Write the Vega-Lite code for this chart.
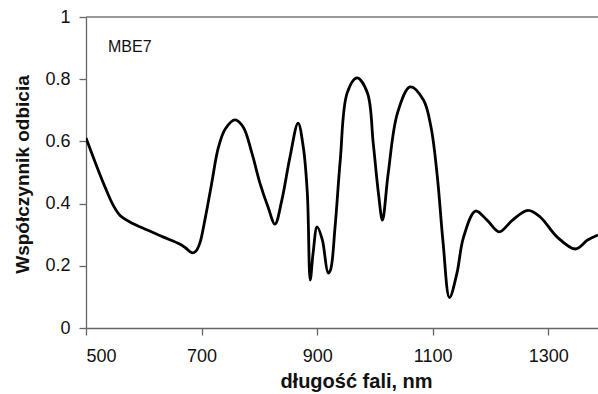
{
  "$schema": "https://vega.github.io/schema/vega-lite/v6.json",
  "autosize": {"type": "none"},
  "padding": {"left": 86, "top": 17, "right": 0, "bottom": 66},
  "width": 512,
  "height": 311,
  "background": "white",
  "config": {
    "view": {"stroke": null},
    "font": "Liberation Sans",
    "axis": {
      "grid": false,
      "domainColor": "#666",
      "domainWidth": 1.3,
      "tickColor": "#666",
      "tickWidth": 1.3,
      "tickSize": 7,
      "labelFont": "Liberation Sans",
      "labelFontSize": 18,
      "labelColor": "#111",
      "titleFont": "Liberation Sans",
      "titleFontWeight": "bold",
      "titleColor": "#111"
    }
  },
  "data": {
    "values": [
      {"nm": 500, "r": 0.611}, {"nm": 519, "r": 0.518}, {"nm": 533, "r": 0.453},
      {"nm": 547, "r": 0.395}, {"nm": 559, "r": 0.362}, {"nm": 576, "r": 0.341},
      {"nm": 606, "r": 0.315}, {"nm": 633, "r": 0.293}, {"nm": 663, "r": 0.269},
      {"nm": 672, "r": 0.258}, {"nm": 683, "r": 0.242}, {"nm": 690, "r": 0.247},
      {"nm": 697, "r": 0.273}, {"nm": 706, "r": 0.35}, {"nm": 717, "r": 0.46},
      {"nm": 729, "r": 0.58}, {"nm": 741, "r": 0.64}, {"nm": 758, "r": 0.669},
      {"nm": 772, "r": 0.646}, {"nm": 787, "r": 0.563}, {"nm": 801, "r": 0.466},
      {"nm": 815, "r": 0.389}, {"nm": 827, "r": 0.334}, {"nm": 839, "r": 0.412},
      {"nm": 853, "r": 0.55}, {"nm": 867, "r": 0.659}, {"nm": 876, "r": 0.582},
      {"nm": 883, "r": 0.434}, {"nm": 888, "r": 0.154}, {"nm": 893, "r": 0.241},
      {"nm": 900, "r": 0.325}, {"nm": 909, "r": 0.283}, {"nm": 919, "r": 0.177},
      {"nm": 923, "r": 0.186}, {"nm": 931, "r": 0.325}, {"nm": 940, "r": 0.54},
      {"nm": 952, "r": 0.756}, {"nm": 969, "r": 0.804}, {"nm": 987, "r": 0.756},
      {"nm": 997, "r": 0.595}, {"nm": 1006, "r": 0.434}, {"nm": 1013, "r": 0.347},
      {"nm": 1023, "r": 0.498}, {"nm": 1039, "r": 0.691}, {"nm": 1061, "r": 0.775},
      {"nm": 1084, "r": 0.733}, {"nm": 1097, "r": 0.646}, {"nm": 1108, "r": 0.486},
      {"nm": 1118, "r": 0.273}, {"nm": 1129, "r": 0.098}, {"nm": 1142, "r": 0.177},
      {"nm": 1153, "r": 0.29}, {"nm": 1174, "r": 0.376}, {"nm": 1194, "r": 0.347},
      {"nm": 1215, "r": 0.309}, {"nm": 1238, "r": 0.347}, {"nm": 1265, "r": 0.378},
      {"nm": 1286, "r": 0.357}, {"nm": 1315, "r": 0.293}, {"nm": 1347, "r": 0.254},
      {"nm": 1368, "r": 0.283}, {"nm": 1386, "r": 0.299}
    ]
  },
  "layer": [
    {
      "data": {"values": [{"top": 1}]},
      "mark": {"type": "rule", "color": "#777", "strokeWidth": 1.5},
      "encoding": {
        "y": {"field": "top", "type": "quantitative"}
      }
    },
    {
      "mark": {"type": "line", "color": "black", "strokeWidth": 2.8, "interpolate": "catmull-rom", "clip": true},
      "encoding": {
        "x": {
          "field": "nm", "type": "quantitative",
          "scale": {"domain": [500, 1386], "nice": false, "zero": false},
          "axis": {"values": [500, 700, 900, 1100, 1300], "format": "d", "title": "długość fali, nm", "labelPadding": 12, "titleFontSize": 20, "titleX": 270, "titleY": 59, "titleBaseline": "alphabetic", "titleAnchor": "middle"}
        },
        "y": {
          "field": "r", "type": "quantitative",
          "scale": {"domain": [0, 1], "nice": false},
          "axis": {"values": [0, 0.2, 0.4, 0.6, 0.8, 1], "format": "~g", "title": "Współczynnik odbicia", "labelPadding": 9, "titleFontSize": 19, "titleX": -64, "titleY": 157, "titleBaseline": "middle", "titleAnchor": "middle"}
        }
      }
    },
    {
      "data": {"values": [{"label": "MBE7", "nm": 538, "r": 0.902}]},
      "mark": {"type": "text", "align": "left", "baseline": "middle", "fontSize": 16, "font": "Liberation Sans", "color": "#111"},
      "encoding": {
        "x": {"field": "nm", "type": "quantitative"},
        "y": {"field": "r", "type": "quantitative"},
        "text": {"field": "label"}
      }
    }
  ]
}
